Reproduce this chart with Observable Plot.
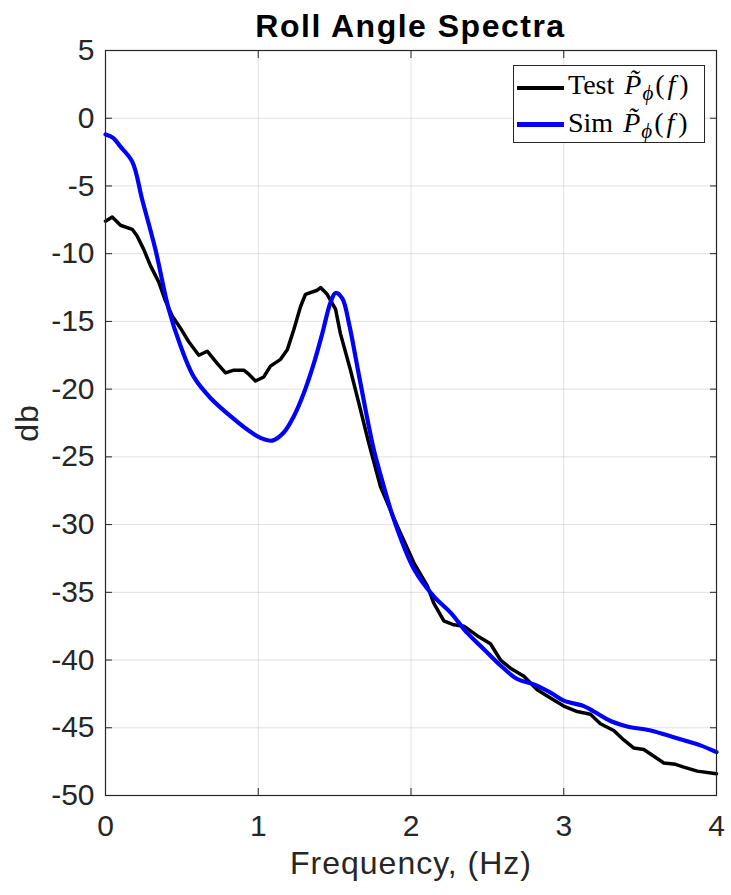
<!DOCTYPE html>
<html>
<head>
<meta charset="utf-8">
<script src="https://cdn.jsdelivr.net/npm/d3@7"></script>
<script src="https://cdn.jsdelivr.net/npm/@observablehq/plot@0.6"></script>
<style>
  body { margin: 0; background: #fff; }
  #wrap { position: relative; width: 731px; height: 895px; overflow: hidden; }
  #chart { position: absolute; left: 0; top: 0; }
  #title { position: absolute; left: 105px; width: 611px; top: 10px; text-align: center;
           font-family: "Liberation Sans", Arial, sans-serif; font-weight: bold; font-size: 32px;
           letter-spacing: 1.5px; line-height: 32px; color: #000; z-index: 2; }
  #legend { position: absolute; left: 513px; top: 65px; width: 192px; height: 78px; box-sizing: border-box;
            border: 1px solid #262626; background: #fff; z-index: 3;
            font-family: "Liberation Serif", "Times New Roman", serif; font-size: 28px; color: #000; }
  .swatch { position: absolute; left: 3px; width: 47px; height: 4.5px; }
  .ltext { position: absolute; left: 54px; line-height: 28px; height: 28px; white-space: nowrap; }
  .pi { font-style: italic; margin-left: 3px; margin-right: 1px; }
  .sb { font-size: 21px; font-style: italic; position: relative; top: 6px; margin-right: 2px; }
  .fi { font-style: italic; padding: 0 4px 0 3px; }
  g[aria-label="x-axis label"], g[aria-label="y-axis label"] { letter-spacing: 1px; }
</style>
</head>
<body>
<div id="wrap">
  <div id="chart"></div>
  <div id="title">Roll Angle Spectra</div>
  <div id="legend">
    <div class="swatch" style="top:19.5px;background:#000"></div>
    <div class="ltext" style="top:5px">Test <span class="pi">P̃</span><span class="sb">ϕ</span>(<span class="fi">f</span>)</div>
    <div class="swatch" style="top:56px;background:#0000ff"></div>
    <div class="ltext" style="top:43px">Sim <span class="pi">P̃</span><span class="sb">ϕ</span>(<span class="fi">f</span>)</div>
  </div>
</div>
<script>
// Tick values
const xTicks = [0, 1, 2, 3, 4];
const yTicks = [5, 0, -5, -10, -15, -20, -25, -30, -35, -40, -45, -50];

// Test spectrum (black), frequency in Hz and level in db
const testFreq = [0, 0.044, 0.098, 0.175, 0.207, 0.251, 0.295, 0.349, 0.393, 0.437, 0.491, 0.545, 0.611, 0.666, 0.731, 0.786, 0.84, 0.905, 0.938, 0.982, 1.036, 1.08, 1.146, 1.19, 1.233, 1.277, 1.309, 1.386, 1.408, 1.451, 1.506, 1.538, 1.604, 1.669, 1.724, 1.80, 1.91, 2.018, 2.106, 2.149, 2.215, 2.28, 2.346, 2.433, 2.52, 2.586, 2.651, 2.739, 2.826, 2.913, 3.0, 3.088, 3.175, 3.24, 3.327, 3.393, 3.459, 3.524, 3.59, 3.655, 3.732, 3.786, 3.874, 4.0];
const testDb = [-7.6, -7.3, -7.9, -8.2, -8.7, -9.7, -10.9, -12.1, -13.5, -14.6, -15.5, -16.5, -17.5, -17.2, -18.1, -18.8, -18.6, -18.6, -18.9, -19.4, -19.1, -18.3, -17.8, -17.1, -15.6, -13.9, -13.0, -12.7, -12.5, -13.0, -14.1, -15.9, -18.6, -21.5, -24.0, -27.2, -30.1, -32.8, -34.5, -35.8, -37.1, -37.4, -37.5, -38.2, -38.8, -40.0, -40.6, -41.2, -42.2, -42.8, -43.4, -43.8, -44.0, -44.7, -45.2, -45.9, -46.5, -46.6, -47.1, -47.6, -47.7, -47.9, -48.2, -48.4];

// Sim spectrum (blue)
const simFreq = [0, 0.05, 0.098, 0.175, 0.24, 0.327, 0.414, 0.491, 0.578, 0.687, 0.84, 0.93, 1.015, 1.091, 1.167, 1.233, 1.298, 1.364, 1.419, 1.473, 1.506, 1.55, 1.593, 1.648, 1.702, 1.757, 1.80, 1.887, 2.02, 2.149, 2.259, 2.368, 2.477, 2.586, 2.695, 2.804, 2.913, 3.0, 3.131, 3.197, 3.306, 3.415, 3.568, 3.72, 3.808, 3.895, 4.0];
const simDb = [-1.2, -1.45, -2.1, -3.2, -6.0, -9.7, -14.1, -16.8, -19.1, -20.65, -22.2, -23.0, -23.6, -23.8, -23.2, -22.0, -20.3, -18.1, -15.9, -13.6, -12.9, -13.3, -15.1, -18.3, -21.5, -24.5, -26.3, -29.6, -33.3, -35.3, -36.5, -38.0, -39.2, -40.4, -41.4, -41.8, -42.4, -43.0, -43.4, -43.8, -44.5, -44.9, -45.2, -45.7, -46.0, -46.3, -46.8];

const test = testFreq.map((f, i) => ({ f, db: testDb[i] }));
const sim = simFreq.map((f, i) => ({ f, db: simDb[i] }));

const fmt = d => String(d);
const blank = () => "";
const axisColor = "#262626";

const chart = Plot.plot({
  width: 731,
  height: 895,
  marginLeft: 105,
  marginRight: 15,
  marginTop: 50,
  marginBottom: 100,
  style: { fontFamily: "'Liberation Sans', Arial, sans-serif", fontSize: "30px", color: axisColor, background: "transparent" },
  x: { domain: [0, 4] },
  y: { domain: [-50, 5] },
  marks: [
    Plot.gridX(xTicks, { stroke: "#000", strokeOpacity: 0.12 }),
    Plot.gridY(yTicks, { stroke: "#000", strokeOpacity: 0.12 }),
    Plot.line(test, { x: "f", y: "db", stroke: "#000", strokeWidth: 3.5, strokeLinejoin: "round" }),
    Plot.line(sim, { x: "f", y: "db", stroke: "#0000ff", strokeWidth: 4.2, curve: "catmull-rom" }),
    Plot.frame({ stroke: axisColor, strokeWidth: 1.2 }),
    // tick labels
    Plot.axisX(xTicks, { anchor: "bottom", tickSize: 0, tickPadding: 19, tickFormat: fmt, fontSize: 30, label: null }),
    Plot.axisY(yTicks, { anchor: "left", tickSize: 0, tickPadding: 11, tickFormat: fmt, fontSize: 30, label: null }),
    // axis titles
    Plot.axisX(xTicks, { anchor: "bottom", tickSize: 0, tickFormat: blank, fontSize: 32,
      label: "Frequency, (Hz)", labelAnchor: "center", labelArrow: "none", labelOffset: 78 }),
    Plot.axisY(yTicks, { anchor: "left", tickSize: 0, tickFormat: blank, fontSize: 32,
      label: "db", labelAnchor: "center", labelArrow: "none", labelOffset: 90 }),
    // inward ticks on all sides
    Plot.axisX(xTicks, { anchor: "bottom", tickSize: -7, tickFormat: blank, label: null, stroke: axisColor }),
    Plot.axisX(xTicks, { anchor: "top", tickSize: -7, tickFormat: blank, label: null, stroke: axisColor }),
    Plot.axisY(yTicks, { anchor: "left", tickSize: -7, tickFormat: blank, label: null, stroke: axisColor }),
    Plot.axisY(yTicks, { anchor: "right", tickSize: -7, tickFormat: blank, label: null, stroke: axisColor })
  ]
});
document.getElementById("chart").appendChild(chart);
</script>
</body>
</html>
